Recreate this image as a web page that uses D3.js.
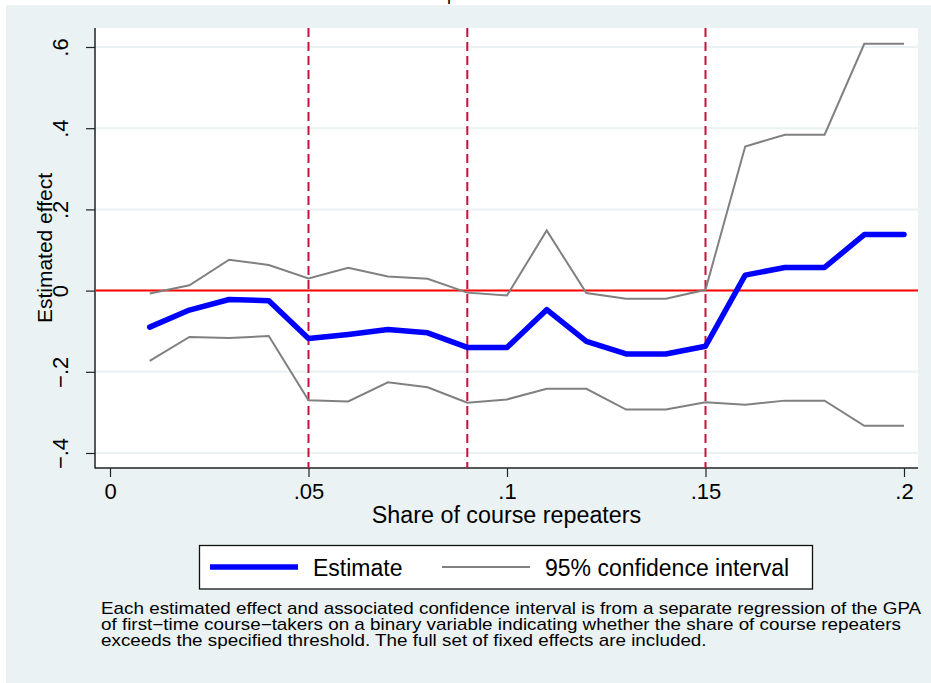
<!DOCTYPE html>
<html>
<head>
<meta charset="utf-8">
<script src="https://cdn.jsdelivr.net/npm/d3@7"></script>
<style>
  html, body { margin: 0; padding: 0; background: #fff; }
  #chart { width: 931px; height: 683px; }
  text { font-family: "Liberation Sans", Arial, sans-serif; fill: #000; }
</style>
</head>
<body>
<div id="chart"></div>
<script>
"use strict";

// thresholds (share of course repeaters)
const shares = [0.01, 0.02, 0.03, 0.04, 0.05, 0.06, 0.07, 0.08, 0.09, 0.10,
  0.11, 0.12, 0.13, 0.14, 0.15, 0.16, 0.17, 0.18, 0.19, 0.20];

const estimate = [-0.090, -0.048, -0.022, -0.025, -0.118, -0.108, -0.096, -0.104, -0.140, -0.140,
  -0.047, -0.125, -0.156, -0.156, -0.137, 0.038, 0.057, 0.057, 0.138, 0.138];

const ciUpper = [-0.007, 0.013, 0.076, 0.063, 0.030, 0.056, 0.035, 0.029, -0.005, -0.012,
  0.148, -0.006, -0.020, -0.020, 0.002, 0.355, 0.384, 0.384, 0.608, 0.608];

const ciLower = [-0.173, -0.114, -0.117, -0.112, -0.270, -0.273, -0.226, -0.238, -0.276, -0.268,
  -0.242, -0.242, -0.293, -0.293, -0.275, -0.281, -0.271, -0.271, -0.333, -0.333];

const cutoffs = [0.05, 0.09, 0.15];

const xTicks = [0, 0.05, 0.1, 0.15, 0.2];
const xTickLabels = ["0", ".05", ".1", ".15", ".2"];
const yTicks = [-0.4, -0.2, 0, 0.2, 0.4, 0.6];
const yTickLabels = ["\u2212.4", "\u2212.2", "0", ".2", ".4", ".6"];

const legendLabels = ["Estimate", "95% confidence interval"];
const noteLines = [
  "Each estimated effect and associated confidence interval is from a separate regression of the GPA",
  "of first\u2212time course\u2212takers on a binary variable indicating whether the share of course repeaters",
  "exceeds the specified threshold. The full set of fixed effects are included.",
];

const W = 931;
const H = 683;
const bg = "#eaf2f3";

window.addEventListener("load", draw);

function draw() {
  const svg = d3.select("#chart").append("svg")
    .attr("width", W)
    .attr("height", H);

  // outer graph region
  svg.append("rect")
    .attr("x", 6).attr("y", 5)
    .attr("width", W - 6).attr("height", H - 5)
    .attr("fill", bg);

  // cut-off title, only the descender shows
  svg.append("text")
    .attr("x", 447).attr("y", 0)
    .attr("font-family", "DejaVu Serif")
    .attr("font-size", 18)
    .text("p");

  const plot = { left: 95, right: 918, top: 28, bottom: 468 };

  svg.append("rect")
    .attr("x", plot.left).attr("y", plot.top)
    .attr("width", plot.right - plot.left)
    .attr("height", plot.bottom - plot.top)
    .attr("fill", "#fff");

  const x = d3.scaleLinear().domain([0, 0.2]).range([110, 904]);
  const y = d3.scaleLinear().domain([-0.4, 0.6]).range([453, 47]);

  // grid
  svg.append("g")
    .selectAll("line")
    .data(yTicks)
    .enter()
    .append("line")
    .attr("x1", plot.left).attr("x2", plot.right)
    .attr("y1", (d) => y(d)).attr("y2", (d) => y(d))
    .attr("stroke", bg)
    .attr("stroke-width", 2);

  // y axis
  const yAxis = svg.append("g")
    .attr("transform", `translate(${plot.left},0)`)
    .call(d3.axisLeft(y)
      .tickValues(yTicks)
      .tickFormat((d, i) => yTickLabels[i])
      .tickSize(9)
      .tickSizeOuter(0));
  yAxis.select(".domain").remove();
  yAxis.selectAll(".tick line").attr("stroke", "#222").attr("stroke-width", 1.2);
  yAxis.selectAll(".tick text")
    .attr("x", 0).attr("dy", null)
    .attr("transform", "translate(-27,0) rotate(-90)")
    .attr("text-anchor", "middle")
    .attr("font-size", 22)
    .attr("font-family", null)
    .attr("fill", "#000");

  // x axis
  const xAxis = svg.append("g")
    .attr("transform", `translate(0,${plot.bottom})`)
    .call(d3.axisBottom(x)
      .tickValues(xTicks)
      .tickFormat((d, i) => xTickLabels[i])
      .tickSize(9)
      .tickSizeOuter(0));
  xAxis.select(".domain").remove();
  xAxis.selectAll(".tick line").attr("stroke", "#222").attr("stroke-width", 1.2);
  xAxis.selectAll(".tick text")
    .attr("y", 31).attr("dy", null)
    .attr("font-size", 22)
    .attr("font-family", null)
    .attr("fill", "#000");

  // axis lines
  svg.append("line")
    .attr("x1", plot.left).attr("x2", plot.left)
    .attr("y1", plot.top).attr("y2", plot.bottom + 0.5)
    .attr("stroke", "#222").attr("stroke-width", 1.5);
  svg.append("line")
    .attr("x1", plot.left).attr("x2", plot.right)
    .attr("y1", plot.bottom).attr("y2", plot.bottom)
    .attr("stroke", "#222").attr("stroke-width", 1.5);

  // zero line
  svg.append("line")
    .attr("x1", plot.left + 1).attr("x2", plot.right)
    .attr("y1", y(0)).attr("y2", y(0))
    .attr("stroke", "#ff0000")
    .attr("stroke-width", 2);

  // threshold lines
  svg.append("g")
    .selectAll("line")
    .data(cutoffs)
    .enter()
    .append("line")
    .attr("x1", (d) => x(d)).attr("x2", (d) => x(d))
    .attr("y1", plot.top).attr("y2", plot.bottom)
    .attr("stroke", "#c8103c")
    .attr("stroke-width", 2)
    .attr("stroke-dasharray", "9,5");

  const line = (vals) => d3.line()
    .x((d, i) => x(shares[i]))
    .y((d) => y(d))(vals);

  svg.append("path")
    .attr("d", line(ciUpper))
    .attr("fill", "none").attr("stroke", "#808080").attr("stroke-width", 2);
  svg.append("path")
    .attr("d", line(ciLower))
    .attr("fill", "none").attr("stroke", "#808080").attr("stroke-width", 2);
  svg.append("path")
    .attr("d", line(estimate))
    .attr("fill", "none").attr("stroke", "#0000ff").attr("stroke-width", 5.5)
    .attr("stroke-linejoin", "round").attr("stroke-linecap", "round");

  // axis titles
  svg.append("text")
    .attr("transform", `translate(52,${(plot.top + plot.bottom) / 2}) rotate(-90)`)
    .attr("text-anchor", "middle")
    .attr("font-size", 21)
    .text("Estimated effect");
  svg.append("text")
    .attr("x", (plot.left + plot.right) / 2).attr("y", 523)
    .attr("text-anchor", "middle")
    .attr("font-size", 23.3)
    .text("Share of course repeaters");

  drawLegend(svg);
  drawNote(svg);
}

function drawLegend(svg) {
  const lg = svg.append("g").attr("id", "legend");
  lg.append("rect")
    .attr("x", 199.5).attr("y", 545.5)
    .attr("width", 613).attr("height", 43.5)
    .attr("fill", "#fff")
    .attr("stroke", "#111")
    .attr("stroke-width", 1.3);

  const keys = [
    { x: 210, color: "#0000ff", width: 5.5, label: legendLabels[0] },
    { x: 442, color: "#808080", width: 2, label: legendLabels[1] },
  ];

  lg.selectAll("line")
    .data(keys)
    .enter()
    .append("line")
    .attr("x1", (d) => d.x).attr("x2", (d) => d.x + 88)
    .attr("y1", 567).attr("y2", 567)
    .attr("stroke", (d) => d.color)
    .attr("stroke-width", (d) => d.width);

  lg.selectAll("text")
    .data(keys)
    .enter()
    .append("text")
    .attr("x", (d) => d.x + 103)
    .attr("y", 576)
    .attr("font-size", 23)
    .text((d) => d.label);
}

// the note is set in a slightly wide face, so stretch it to the width of
// the first line in the reference
function drawNote(svg) {
  const noteWidth = 821;
  const g = svg.append("g").attr("id", "note");
  const lines = g.selectAll("text")
    .data(noteLines)
    .enter()
    .append("text")
    .attr("x", 0)
    .attr("y", (d, i) => 614 + i * 16)
    .attr("font-size", 16)
    .text((d) => d);

  const k = noteWidth / lines.node().getComputedTextLength();
  g.attr("transform", `translate(101,0) scale(${k},1)`);
}
</script>
</body>
</html>
